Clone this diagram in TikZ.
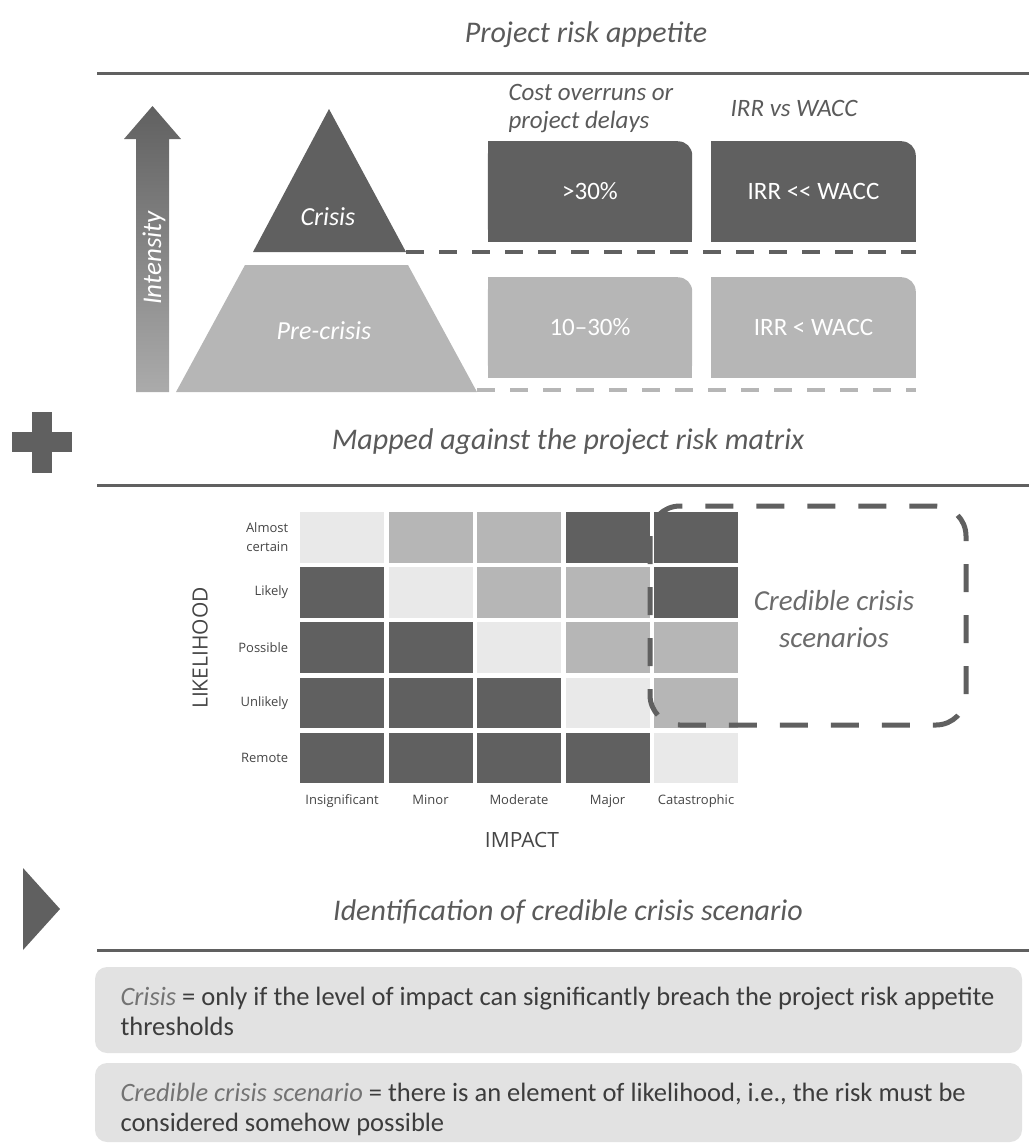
\documentclass[tikz,border=0pt]{standalone}
\usepackage{fontspec}
\setmainfont{Carlito}
\newfontfamily\matrixfont{Open Sans}
\usetikzlibrary{positioning,backgrounds}

\definecolor{darkgrey}{HTML}{606060}
\definecolor{midgrey}{HTML}{B6B6B6}
\definecolor{lightgrey}{HTML}{E9E9E9}
\definecolor{arrowgrey}{HTML}{ABABAB}
\definecolor{headgrey}{HTML}{5A5A5A}
\definecolor{notegrey}{HTML}{E2E2E2}
\definecolor{notetext}{HTML}{3C3C3C}
\definecolor{labelgrey}{HTML}{454545}
% cell colours of the risk matrix
\colorlet{cellL}{lightgrey}
\colorlet{cellM}{midgrey}
\colorlet{cellD}{darkgrey}

\newcommand{\fsz}[2]{\fontsize{#1}{#2}\selectfont}
% box with only the top right corner rounded
\newcommand{\tabfill}[2]{%
  \fill[#2, rounded corners=14pt] (#1.north west) rectangle (#1.south east);
  \fill[#2] (#1.north west) rectangle ([xshift=-14pt]#1.south east);
  \fill[#2] ([yshift=-14pt]#1.north west) rectangle (#1.south east);}

\begin{document}
\begin{tikzpicture}[x=1pt, y=-1pt,
    heading/.style={font=\fsz{30}{34}\itshape, text=headgrey},
    rule/.style={draw=darkgrey, line width=3pt},
    tab/.style={minimum width=204pt, minimum height=100pt, inner sep=0pt,
                text=white, font=\fsz{25}{30}},
    colhead/.style={font=\fsz{25}{28}\itshape, text=headgrey, align=left},
    cell/.style={minimum width=84pt, minimum height=50.5pt, inner sep=0pt},
    rowlab/.style={font=\matrixfont\fsz{13}{19}, text=labelgrey, align=right},
    collab/.style={font=\matrixfont\fsz{13}{16}, text=labelgrey},
    axislab/.style={font=\matrixfont\fsz{21}{25}, text=labelgrey},
    note/.style={fill=notegrey, rounded corners=12pt},
    notetxt/.style={font=\fsz{26.5}{30}, text=notetext, align=left, anchor=west}]
    \useasboundingbox (0,0) rectangle (1029,1146);

    % --- Define Parameters ---
    \def\ruleL{97}       % left end of the section rules
    \def\mx{300}         % left edge of the risk matrix
    \def\my{512}         % top edge of the risk matrix
    \def\dx{88.5}        % column pitch
    \def\dy{55.2}        % row pitch

    % --- Project risk appetite ---
    \node[heading] (appetite) at (586,35) {Project risk appetite};
    \draw[rule] (\ruleL,73) -- (1029,73);

    % Intensity arrow, shaded from dark (top) to light (bottom)
    \shade[top color=darkgrey, bottom color=arrowgrey]
        (136,392) -- (136,139) -- (124,139) -- (152.5,106) -- (181,139)
        -- (169,139) -- (169,392) -- cycle;
    \node[rotate=90, text=white, font=\fsz{27}{30}\itshape] (intensity) at (154,258) {Intensity};

    % Pyramid
    \fill[darkgrey] (253,252) -- (329,109) -- (406,252) -- cycle;
    \fill[midgrey] (245,265) -- (408,265) -- (477,392) -- (176,392) -- cycle;
    \node[text=white, font=\fsz{26}{30}\itshape] (crisis) at (328,217) {Crisis};
    \node[text=white, font=\fsz{26}{30}\itshape] (precrisis) at (324,331) {Pre-crisis};

    % Thresholds
    \node[colhead, anchor=west] (costhead) at (505,109) {Cost overruns or\\project delays};
    \node[colhead] (irrhead) at (794,108) {IRR vs WACC};
    \node[tab] (costhi) at (590,191.5) {>30\%};
    \node[tab] (irrhi) at (813.5,191.5) {IRR <{}< WACC};
    \node[tab] (costlo) at (590,327.5) {10--30\%};
    \node[tab] (irrlo) at (813.5,327.5) {IRR < WACC};
    \begin{scope}[on background layer]
        \tabfill{costhi}{darkgrey}
        \tabfill{irrhi}{darkgrey}
        \tabfill{costlo}{midgrey}
        \tabfill{irrlo}{midgrey}
    \end{scope}

    % Dashed level lines
    \coordinate (crisisedge) at (406,252);
    \coordinate (precrisisedge) at (477,390);
    \draw[darkgrey, line width=4.5pt, dash pattern=on 18pt off 15pt]
        (crisisedge) -- (crisisedge -| irrhi.east);
    \draw[midgrey, line width=3.5pt, dash pattern=on 18pt off 15pt]
        (precrisisedge) -- (precrisisedge -| irrlo.east);

    % --- Plus sign ---
    \fill[darkgrey] (32,412) rectangle (52,473);
    \fill[darkgrey] (12,432) rectangle (72,452);

    % --- Risk matrix ---
    \node[heading] (mapped) at (568,442) {Mapped against the project risk matrix};
    \draw[rule] (\ruleL,485) -- (1029,485);

    \foreach \r/\cols in {0/{L,M,M,D,D}, 1/{D,L,M,M,D}, 2/{D,D,L,M,M},
                          3/{D,D,D,L,M}, 4/{D,D,D,D,L}} {
        \foreach \k [count=\j from 0] in \cols {
            \node[cell, fill=cell\k] (m-\r-\j) at ({\mx+42+\dx*\j},{\my+25.25+\dy*\r}) {};
        }
    }
    % row and column labels
    \foreach \lab [count=\r from 0] in {{Almost\\certain},Likely,Possible,Unlikely,Remote}
        \node[rowlab, left=8pt of m-\r-0] (rl-\r) {\lab};
    \foreach \lab [count=\j from 0] in {Insignificant,Minor,Moderate,Major,Catastrophic}
        \node[collab, below=8pt of m-4-\j] (cl-\j) {\lab};
    \node[axislab] (impact) at (522,840) {IMPACT};
    \node[axislab, rotate=90] (likelihood) at (200,648) {LIKELIHOOD};

    % Credible crisis scenarios
    \draw[darkgrey, line width=5pt, dash pattern=on 28pt off 23pt, rounded corners=30pt]
        (650,506) rectangle (966,725);
    \node[font=\fsz{29}{37}\itshape, text=headgrey!90, align=center] (scenarios)
        at (834,619) {Credible crisis\\scenarios};

    % --- Identification ---
    \fill[darkgrey] (23,868) -- (60,909) -- (23,950) -- cycle;
    \node[heading] (ident) at (568,912) {Identification of credible crisis scenario};
    \draw[rule] (\ruleL,950) -- (1029,950);

    \fill[note] (95,967) rectangle (1022,1053);
    \fill[note] (95,1063) rectangle (1022,1142);
    \node[notetxt] (crisisdef) at (117,1011)
        {{\color{headgrey!85}\itshape Crisis} = only if the level of impact can significantly breach the project risk appetite\\thresholds};
    \node[notetxt] (scendef) at (117,1109)
        {{\color{headgrey!85}\itshape Credible crisis scenario} = there is an element of likelihood, i.e., the risk must be\\considered somehow possible};
\end{tikzpicture}
\end{document}
